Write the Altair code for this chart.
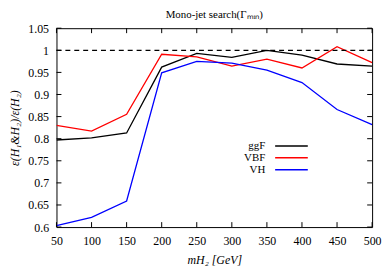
import altair as alt
import pandas as pd

mass = [50, 100, 150, 200, 250, 300, 350, 400, 450, 500]
ggF = [0.797, 0.802, 0.813, 0.962, 0.993, 0.984, 1.000, 0.989, 0.969, 0.964]
VBF = [0.830, 0.817, 0.855, 0.991, 0.985, 0.964, 0.980, 0.960, 1.008, 0.972]
VH = [0.603, 0.622, 0.659, 0.949, 0.975, 0.971, 0.955, 0.927, 0.866, 0.832]
series = ["ggF", "VBF", "VH"]
colors = ["#000000", "#ff0000", "#0000ff"]
x_ticks = [50, 100, 150, 200, 250, 300, 350, 400, 450, 500]
y_ticks = [0.6, 0.65, 0.7, 0.75, 0.8, 0.85, 0.9, 0.95, 1.0, 1.05]
ref_level = [1.0]

FONT = "Liberation Serif"
W, H = 319, 201

rows = []
for name, vals in zip(series, [ggF, VBF, VH]):
    for m, v in zip(mass, vals):
        rows.append({"m": m, "eff": v, "series": name})
df = pd.DataFrame(rows)

xs = alt.Scale(domain=[50, 500], nice=False)
ys = alt.Scale(domain=[0.6, 1.05], nice=False, zero=False)

ax_x = alt.Axis(values=x_ticks, title="mH₂ [GeV]", grid=False, ticks=False,
                domain=False, labelPadding=9, titlePadding=8,
                labelOverlap=False, labelFlush=False,
                titleFontWeight="normal", titleFontStyle="italic")
ax_y = alt.Axis(values=y_ticks, format="~g", title="ε(H₁&H₂)/ε(H₂)", grid=False,
                ticks=False, domain=False, labelPadding=8,
                titleX=-35, titleY=H / 2,
                labelOverlap=False, labelFlush=False,
                titleFontWeight="normal", titleFontStyle="italic")

lines = alt.Chart(df).mark_line(strokeWidth=1.3, clip=True).encode(
    x=alt.X("m:Q", scale=xs, axis=ax_x),
    y=alt.Y("eff:Q", scale=ys, axis=ax_y),
    color=alt.Color("series:N", scale=alt.Scale(domain=series, range=colors), legend=None),
)

ref = alt.Chart(pd.DataFrame({"v": ref_level})).mark_rule(
    color="black", strokeDash=[5, 4], strokeWidth=1.3
).encode(y=alt.Y("v:Q", scale=ys, axis=ax_y), x=alt.value(0), x2=alt.value(W))

xt = pd.DataFrame({"m": x_ticks})
yt = pd.DataFrame({"v": y_ticks})
tick_b = alt.Chart(xt).mark_rule(color="black").encode(
    x=alt.X("m:Q", scale=xs, axis=ax_x), y=alt.value(H), y2=alt.value(H - 5))
tick_t = alt.Chart(xt).mark_rule(color="black").encode(
    x=alt.X("m:Q", scale=xs, axis=ax_x), y=alt.value(0), y2=alt.value(5))
tick_l = alt.Chart(yt).mark_rule(color="black").encode(
    y=alt.Y("v:Q", scale=ys, axis=ax_y), x=alt.value(0), x2=alt.value(5))
tick_r = alt.Chart(yt).mark_rule(color="black").encode(
    y=alt.Y("v:Q", scale=ys, axis=ax_y), x=alt.value(W), x2=alt.value(W - 5))

# custom legend (label then line sample)
leg_layers = []
for i, (name, col) in enumerate(zip(series, colors)):
    ypix = 119 + 12 * i
    leg_df = pd.DataFrame({"label": [name]})
    leg_layers.append(alt.Chart(leg_df).mark_text(
        align="right", baseline="middle", font=FONT, fontSize=11, color="black"
    ).encode(text="label:N", x=alt.value(211), y=alt.value(ypix)))
    leg_layers.append(alt.Chart(leg_df).mark_rule(color=col, strokeWidth=1.5).encode(
        x=alt.value(221), x2=alt.value(254), y=alt.value(ypix)))

chart = alt.layer(lines, ref, tick_b, tick_t, tick_l, tick_r, *leg_layers).properties(
    width=W, height=H,
    autosize=alt.AutoSizeParams(type="none"),
    padding={"left": 49, "top": 19, "right": 10, "bottom": 45},
    title=alt.TitleParams("Mono-jet search(Γₘᵢₙ)", font=FONT, fontSize=11,
                          fontWeight="normal", offset=2),
).configure_view(stroke="black", strokeWidth=1).configure_axis(
    labelFont=FONT, titleFont=FONT, labelFontSize=12, titleFontSize=12,
    labelColor="black", titleColor="black"
)

chart.save("out.html", embed_options={"renderer": "svg", "actions": False})
